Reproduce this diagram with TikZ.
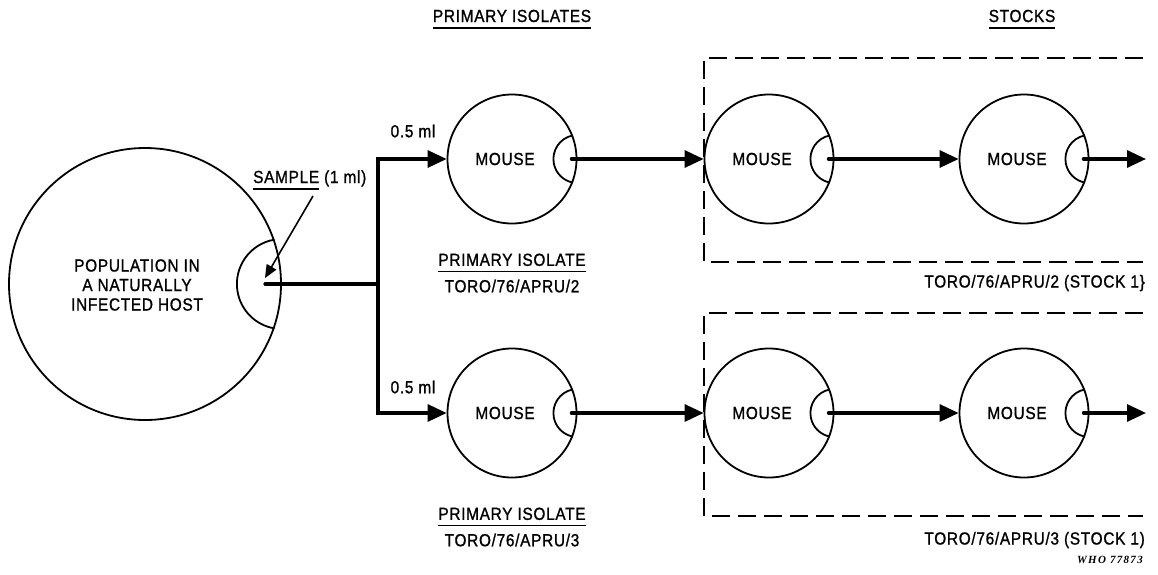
\documentclass[tikz,border=0pt]{standalone}
\usepackage{fontspec}
\setmainfont[FakeBold=1.1,FakeStretch=0.88,LetterSpace=4]{Liberation Sans}
\newfontfamily\whofont[LetterSpace=12]{Liberation Serif}
\usetikzlibrary{arrows.meta}
\newcommand\ulin[1]{\setbox0\hbox{#1}\rlap{\rule[-6.5pt]{\wd0}{1.8pt}}\box0\relax}
\newcommand\drawcup[3]{% node, radius, angle
  \draw[cupline] ([shift={(#3:#2)}]#1.east) arc[start angle=#3,end angle=360-#3,radius=#2];}
\begin{document}
\begin{tikzpicture}[x=1pt,y=1pt,
  every node/.style={font=\fontsize{17.5}{19.5}\selectfont},
  host/.style={circle,draw,line width=1.8pt,minimum size=272pt,inner sep=0pt},
  mouse/.style={circle,draw,line width=1.8pt,minimum size=129pt,inner sep=0pt},
  cupline/.style={line width=1.8pt},
  flow/.style={line width=3.2pt,line cap=round},
  flowarrow/.style={flow,-{Triangle[length=19pt,width=17pt]}},
  ptr/.style={line width=1.6pt,-{Triangle[length=13pt,width=11pt]}},
  stockbox/.style={line width=1.4pt,dash pattern=on 18pt off 8pt},
  lbl/.style={inner sep=0pt,align=center}
]
\useasboundingbox (0,0) rectangle (1158,-574);

% titles
\node[lbl,anchor=base] (t1) at (512,-22) {\ulin{PRIMARY ISOLATES}};
\node[lbl,anchor=base] (t2) at (1022,-22) {\ulin{STOCKS}};

% host
\node[host] (host) at (145,-284) {};
\node[lbl] (hosttxt) at (137,-285) {POPULATION IN\\A NATURALLY\\INFECTED HOST};
\drawcup{host}{45pt}{99.5}

% sample label and pointer
\node[lbl,anchor=base west] (samp) at (253,-183) {\ulin{SAMPLE} (1 ml)};
\coordinate (pstart) at (313,-196);
\coordinate (ptip) at (265,-278);
\draw[ptr] (pstart) -- (ptip);

% mice
\node[mouse] (m1) at (512,-159) {};
\node[mouse] (m2) at (769,-159) {};
\node[mouse] (m3) at (1024,-159) {};
\node[mouse] (m4) at (512,-413) {};
\node[mouse] (m5) at (769,-413) {};
\node[mouse] (m6) at (1024,-413) {};
\foreach \m in {m1,m2,m3,m4,m5,m6}{
  \node[lbl] at ([xshift=-7pt]\m.center) {MOUSE};
  \drawcup{\m}{24pt}{100.7}
}

% sample flow
\coordinate (s) at (265,-284);
\coordinate (j) at (378,-284);
\draw[flow] (s) -- (j);
\draw[flowarrow] (j) |- (m1.west);
\draw[flowarrow] (j) |- (m4.west);
\node[lbl] (v1) at (413,-131) {0.5 ml};
\node[lbl] (v2) at (413,-387) {0.5 ml};

% passages
\coordinate (e1) at (1146,-159);
\coordinate (e2) at (1146,-413);
\draw[flowarrow] ([xshift=-6pt]m1.east) -- (m2.west);
\draw[flowarrow] ([xshift=-6pt]m2.east) -- (m3.west);
\draw[flowarrow] ([xshift=-6pt]m3.east) -- (e1);
\draw[flowarrow] ([xshift=-6pt]m4.east) -- (m5.west);
\draw[flowarrow] ([xshift=-6pt]m5.east) -- (m6.west);
\draw[flowarrow] ([xshift=-6pt]m6.east) -- (e2);

% stock boxes (open on the right)
\draw[stockbox] (1143,-58) -- (704,-58) -- (704,-262) -- (1143,-262);
\draw[stockbox] (1143,-313) -- (704,-313) -- (704,-516) -- (1143,-516);

% isolate labels
\node[lbl] (p1) at (512,-263) {\ulin{PRIMARY ISOLATE}};
\node[lbl] (p1b) at (512,-286) {TORO/76/APRU/2};
\node[lbl] (p2) at (512,-517) {\ulin{PRIMARY ISOLATE}};
\node[lbl] (p2b) at (512,-540) {TORO/76/APRU/3};

\node[lbl,anchor=east] (s1) at (1145,-283) {TORO/76/APRU/2 (STOCK 1\}};
\node[lbl,anchor=east] (s2) at (1145,-540) {TORO/76/APRU/3 (STOCK 1)};

\node[lbl,anchor=east,font=\whofont\bfseries\itshape\fontsize{11}{12}\selectfont] (who) at (1143,-560) {WHO 77873};
\end{tikzpicture}
\end{document}
